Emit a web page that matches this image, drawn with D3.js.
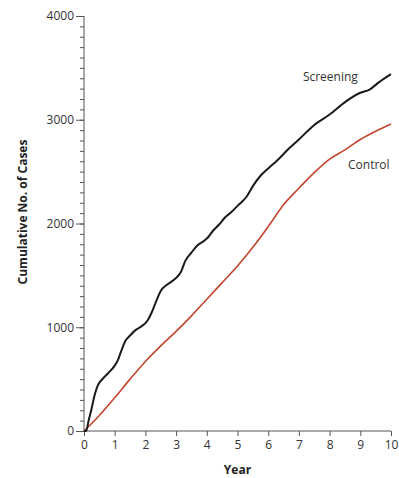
<!DOCTYPE html>
<html>
<head>
<meta charset="utf-8">
<script src="https://cdn.jsdelivr.net/npm/d3@7"></script>
<style>
  html, body { margin: 0; padding: 0; background: #fff; }
  svg { display: block; }
  text { font-family: "Open Sans", "Noto Sans", sans-serif; }
</style>
</head>
<body>
<svg id="chart" width="399" height="478"></svg>
<script>
// ---- data ----
const screeningYears = [0, 0.07, 0.15, 0.25, 0.35, 0.45, 0.6, 0.8, 1.0, 1.1, 1.2, 1.35, 1.5, 1.65, 1.8, 2.0, 2.1, 2.2, 2.35, 2.5, 2.7, 2.9, 3.05, 3.15, 3.3, 3.5, 3.7, 3.9, 4.05, 4.2, 4.4, 4.6, 4.8, 5.0, 5.15, 5.3, 5.5, 5.75, 6.0, 6.3, 6.7, 7.0, 7.5, 8.0, 8.5, 9.0, 9.3, 9.6, 10.0];
const screeningCases = [0, 0, 100, 220, 350, 440, 500, 560, 630, 680, 760, 870, 920, 965, 995, 1040, 1080, 1140, 1250, 1350, 1410, 1450, 1490, 1530, 1640, 1720, 1790, 1830, 1870, 1930, 1990, 2060, 2110, 2170, 2210, 2260, 2360, 2460, 2530, 2610, 2730, 2810, 2950, 3050, 3170, 3260, 3290, 3360, 3440];
const controlYears = [0, 0.5, 1, 1.5, 2, 2.5, 3, 3.5, 4, 4.5, 5, 5.5, 6, 6.5, 7, 7.5, 8, 8.5, 9, 9.5, 10];
const controlCases = [0, 150, 320, 500, 670, 820, 960, 1110, 1270, 1430, 1590, 1770, 1970, 2180, 2340, 2490, 2620, 2710, 2810, 2890, 2960];
const xTicks = [0, 1, 2, 3, 4, 5, 6, 7, 8, 9, 10];
const yMajorTicks = [0, 1000, 2000, 3000, 4000];
const seriesNames = ["Screening", "Control"];
const labelYears = [7.13, 8.6];
const labelCases = [3370, 2530];

// ---- layout ----
const svg = d3.select("#chart");
const x = d3.scaleLinear().domain([0, 10]).range([84, 391]);
const y = d3.scaleLinear().domain([0, 4000]).range([431, 16]);
const axisColor = "#555";
const textColor = "#333";

// y axis (minor ticks every 100)
const yMinor = d3.range(0, 4001, 100);
const yAxis = svg.append("g").attr("transform", `translate(${x(0)},0)`)
  .call(d3.axisLeft(y).tickValues(yMinor).tickSize(4).tickFormat(""));
yAxis.select(".domain").attr("d", `M0,${y(4000)}V${y(0)}`);
const yAxisMajor = svg.append("g").attr("transform", `translate(${x(0)},0)`)
  .call(d3.axisLeft(y).tickValues(yMajorTicks).tickSize(8).tickPadding(2).tickFormat(d3.format("d")));
yAxisMajor.select(".domain").remove();
[yAxis, yAxisMajor].forEach(g => {
  g.selectAll("line").attr("stroke", axisColor);
  g.selectAll(".domain").attr("stroke", axisColor);
});
yAxisMajor.selectAll("text").attr("font-size", 12).attr("fill", textColor)
  .attr("font-family", "'Open Sans', 'Noto Sans', sans-serif");

// x axis
const xAxis = svg.append("g").attr("transform", `translate(0,${y(0)})`)
  .call(d3.axisBottom(x).tickValues(xTicks).tickSize(5).tickPadding(4).tickFormat(d3.format("d")));
xAxis.select(".domain").attr("d", `M${x(0)},0H${x(10)}`).attr("stroke", axisColor);
xAxis.selectAll("line").attr("stroke", axisColor);
xAxis.selectAll("text").attr("font-size", 12).attr("fill", textColor)
  .attr("font-family", "'Open Sans', 'Noto Sans', sans-serif");

// axis titles
svg.append("text")
  .attr("x", (x(0) + x(10)) / 2).attr("y", 474)
  .attr("text-anchor", "middle").attr("font-size", 12).attr("font-weight", "bold")
  .attr("fill", "#222").text("Year");
svg.append("text")
  .attr("transform", `translate(27,212) rotate(-90)`)
  .attr("text-anchor", "middle").attr("font-size", 12).attr("font-weight", "bold")
  .attr("fill", "#222").text("Cumulative No. of Cases");

// lines
const line = d3.line().x(d => x(d[0])).y(d => y(d[1])).curve(d3.curveMonotoneX);
const controlData = controlYears.map((v, i) => [v, controlCases[i]]);
const screeningData = screeningYears.map((v, i) => [v, screeningCases[i]]);
svg.append("path").datum(controlData).attr("d", line)
  .attr("fill", "none").attr("stroke", "#c4452f").attr("stroke-width", 1.6);
svg.append("path").datum(screeningData).attr("d", line)
  .attr("fill", "none").attr("stroke", "#1a1a1a").attr("stroke-width", 2);

// series labels
seriesNames.forEach((name, i) => {
  svg.append("text")
    .attr("x", x(labelYears[i])).attr("y", y(labelCases[i]))
    .attr("font-size", 12).attr("fill", textColor).text(name);
});
</script>
</body>
</html>
